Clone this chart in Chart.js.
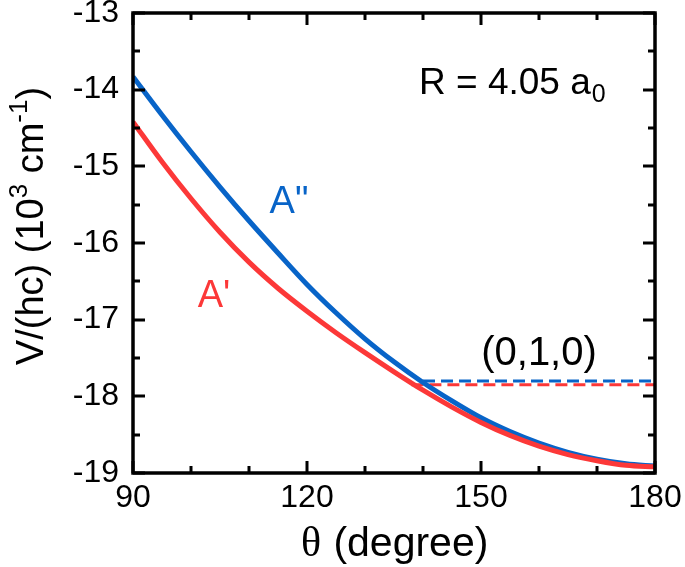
<!DOCTYPE html>
<html>
<head>
<meta charset="utf-8">
<script src="https://cdn.jsdelivr.net/npm/chart.js@4.4.1/dist/chart.umd.min.js"></script>
<style>
html,body{margin:0;padding:0;background:#fff;}
#wrap{width:685px;height:567px;position:relative;}
</style>
</head>
<body>
<div id="wrap"><canvas id="c" width="685" height="567"></canvas></div>
<script>
// ---- data ----
const theta = [90,95,100,105,110,115,120,125,130,135,140,145,150,155,160,165,170,175,180];
const vDoublePrime = [-13.83,-14.33,-14.81,-15.27,-15.71,-16.13,-16.54,-16.91,-17.25,-17.55,-17.82,-18.06,-18.28,-18.46,-18.61,-18.73,-18.82,-18.88,-18.91];
const vPrime = [-14.42,-14.94,-15.42,-15.86,-16.25,-16.59,-16.89,-17.17,-17.43,-17.68,-17.92,-18.14,-18.34,-18.51,-18.65,-18.76,-18.84,-18.90,-18.92];
const asymThetaDP = [140,180];
const asymDP = [-17.80,-17.80];
const asymThetaP = [138,180];
const asymP = [-17.85,-17.85];
const xTickValues = [90,120,150,180];
const yTickValues = [-19,-18,-17,-16,-15,-14,-13];
const xMinorStep = 10;
const yMinorStep = 0.5;

const BLUE = '#0864c8';
const RED = '#fc3838';
const SANS = '"Liberation Sans", Arial, sans-serif';
const SERIF = '"Liberation Serif", "Times New Roman", serif';

function pts(xs, ys){ return xs.map((x,i)=>({x:x, y:ys[i]})); }

const decorPlugin = {
  id: 'decor',
  afterDraw(chart){
    const ctx = chart.ctx;
    const xs = chart.scales.x, ys = chart.scales.y;
    const a = chart.chartArea;
    ctx.save();
    // ticks (inward, all sides)
    ctx.strokeStyle = '#000';
    ctx.lineWidth = 3;
    const major = 12, minor = 7;
    for (let v = xs.min; v <= xs.max + 1e-9; v += xMinorStep) {
      const px = Math.round(xs.getPixelForValue(v));
      const L = xTickValues.includes(v) ? major : minor;
      ctx.beginPath();
      ctx.moveTo(px, a.bottom); ctx.lineTo(px, a.bottom - L);
      ctx.moveTo(px, a.top); ctx.lineTo(px, a.top + L);
      ctx.stroke();
    }
    for (let v = ys.min; v <= ys.max + 1e-9; v += yMinorStep) {
      const py = Math.round(ys.getPixelForValue(v));
      const L = Math.abs(v - Math.round(v)) < 1e-6 ? major : minor;
      ctx.beginPath();
      ctx.moveTo(a.left, py); ctx.lineTo(a.left + L, py);
      ctx.moveTo(a.right, py); ctx.lineTo(a.right - L, py);
      ctx.stroke();
    }
    // frame
    ctx.lineWidth = 3.5;
    ctx.strokeRect(a.left, a.top, a.right - a.left, a.bottom - a.top);

    // annotations
    ctx.textBaseline = 'alphabetic';
    ctx.textAlign = 'left';
    ctx.fillStyle = '#000';
    ctx.font = '37px ' + SANS;
    const rTxt = 'R = 4.05 a';
    ctx.fillText(rTxt, 419, 94);
    const rw = ctx.measureText(rTxt).width;
    ctx.font = '25px ' + SANS;
    ctx.fillText('0', 419 + rw + 1, 102);

    ctx.font = '40px ' + SANS;
    ctx.textAlign = 'center';
    ctx.fillText('(0,1,0)', 539, 365);

    ctx.fillStyle = BLUE;
    ctx.font = '38px ' + SANS;
    ctx.fillText('A"', 289, 213);
    ctx.fillStyle = RED;
    ctx.fillText("A'", 214, 307);

    // x title
    ctx.fillStyle = '#000';
    ctx.textAlign = 'left';
    ctx.font = '42px ' + SERIF;
    ctx.fillText('\u03b8', 301, 556);
    ctx.font = '41px ' + SANS;
    ctx.fillText(' (degree)', 322, 556);

    // y title (rotated)
    ctx.save();
    ctx.translate(43, 226);
    ctx.rotate(-Math.PI/2);
    const parts = [
      {t:'V/(hc) (10', f:38, dy:0},
      {t:'3', f:26, dy:-16},
      {t:' cm', f:38, dy:0},
      {t:'-1', f:26, dy:-16},
      {t:')', f:38, dy:0}
    ];
    let total = 0;
    parts.forEach(p=>{ ctx.font = p.f + 'px ' + SANS; p.w = ctx.measureText(p.t).width; total += p.w; });
    let x0 = -total/2;
    ctx.textAlign = 'left';
    parts.forEach(p=>{ ctx.font = p.f + 'px ' + SANS; ctx.fillText(p.t, x0, p.dy); x0 += p.w; });
    ctx.restore();

    ctx.restore();
  }
};

new Chart(document.getElementById('c'), {
  type: 'line',
  data: {
    datasets: [
      { label: "A'", data: pts(theta, vPrime), borderColor: RED, borderWidth: 5, pointRadius: 0, cubicInterpolationMode: 'monotone', fill: false },
      { label: 'A"', data: pts(theta, vDoublePrime), borderColor: BLUE, borderWidth: 5, pointRadius: 0, cubicInterpolationMode: 'monotone', fill: false },
      { label: "A' (0,1,0)", data: pts(asymThetaP, asymP), borderColor: RED, borderWidth: 3, borderDash: [12,6], pointRadius: 0, fill: false },
      { label: 'A" (0,1,0)', data: pts(asymThetaDP, asymDP), borderColor: BLUE, borderWidth: 3, borderDash: [12,6], pointRadius: 0, fill: false }
    ]
  },
  options: {
    responsive: false,
    devicePixelRatio: 1,
    animation: false,
    layout: { padding: { top: 13, right: 30, left: 0, bottom: 0 } },
    plugins: { legend: { display: false }, tooltip: { enabled: false }, title: { display: false } },
    scales: {
      x: {
        type: 'linear', min: 90, max: 180, position: 'bottom',
        grid: { display: false, drawTicks: false },
        border: { display: false },
        ticks: {
          color: '#000', font: { family: SANS, size: 32 }, padding: 6, maxRotation: 0, autoSkip: false,
          stepSize: 30
        },
        afterBuildTicks(s){ s.ticks = xTickValues.map(v=>({value:v})); },
        afterFit(s){ s.height = 94; s.paddingLeft = 0; s.paddingRight = 0; s.paddingTop = 0; s.paddingBottom = 0; }
      },
      y: {
        type: 'linear', min: -19, max: -13, position: 'left',
        grid: { display: false, drawTicks: false },
        border: { display: false },
        ticks: {
          color: '#000', font: { family: SANS, size: 32 }, padding: 14, autoSkip: false, stepSize: 1
        },
        afterBuildTicks(s){ s.ticks = yTickValues.map(v=>({value:v})); },
        afterFit(s){ s.width = 133; s.paddingLeft = 0; s.paddingRight = 0; s.paddingTop = 0; s.paddingBottom = 0; }
      }
    }
  },
  plugins: [decorPlugin]
});
</script>
</body>
</html>
